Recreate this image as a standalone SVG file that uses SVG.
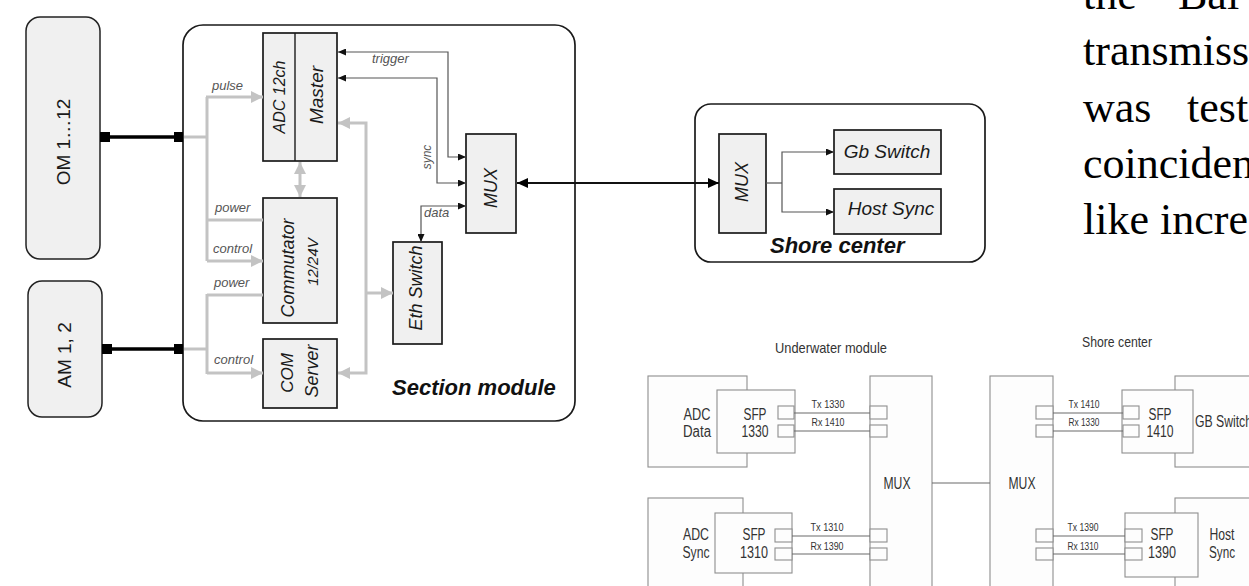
<svg xmlns="http://www.w3.org/2000/svg" width="1249" height="586" viewBox="0 0 1249 586">
<style>
text{font-family:"Liberation Sans",Arial,sans-serif}
.blk{fill:#f0f0f0;stroke:#1a1a1a;stroke-width:1.7}
.cont{fill:#fff;stroke:#1a1a1a;stroke-width:1.7}
.ext{fill:#f0f0f0;stroke:#222;stroke-width:1.5}
.lbl{font-style:italic;fill:#1a1a1a;text-anchor:middle}
.sm{font-style:italic;fill:#555;font-size:13px}
.big{font-style:italic;font-weight:bold;fill:#111;font-size:22px}
.gray{fill:none;stroke:#c3c3c3;stroke-width:3}
.blk-line{fill:none;stroke:#555;stroke-width:1.2}
.thick{fill:none;stroke:#000;stroke-width:3.5}
.sq{fill:#000}
.serif{font-family:"Liberation Serif","Times New Roman",serif;font-size:44px;fill:#000}
.pbox{fill:#fdfdfd;stroke:#8e8e8e;stroke-width:1.1}
.pline{fill:none;stroke:#6a6a6a;stroke-width:1.1}
.pt{font-family:"Liberation Sans",Arial,sans-serif;fill:#333;font-size:16px;text-anchor:middle}
.ps{font-family:"Liberation Sans",Arial,sans-serif;fill:#333;font-size:10.5px;text-anchor:middle}
</style>
<defs>
<marker id="ab" viewBox="0 0 8 7" refX="8" refY="3.5" markerWidth="8" markerHeight="7" markerUnits="userSpaceOnUse" orient="auto-start-reverse"><path d="M0,0 L8,3.5 L0,7 z" fill="#111"/></marker>
<marker id="ag" viewBox="0 0 12 12" refX="12" refY="6" markerWidth="12" markerHeight="12" markerUnits="userSpaceOnUse" orient="auto-start-reverse"><path d="M0,0 L12,6 L0,12 z" fill="#c3c3c3"/></marker>
<marker id="abig" viewBox="0 0 11 10" refX="11" refY="5" markerWidth="11" markerHeight="10" markerUnits="userSpaceOnUse" orient="auto-start-reverse"><path d="M0,0 L11,5 L0,10 z" fill="#000"/></marker>
</defs>

<!-- containers -->
<g id="section-module">
<rect class="cont" x="183" y="25" width="392" height="396" rx="20"/>
<text class="big" x="392" y="395">Section module</text>
</g>
<g id="shore-center">
<rect class="cont" x="695" y="104" width="290" height="158" rx="16"/>
<text class="big" x="770" y="253">Shore center</text>
</g>

<!-- external nodes -->
<g id="om">
<rect class="ext" x="26" y="17" width="74" height="242" rx="14"/>
<text class="lbl" style="font-style:normal;font-size:19px" x="63" y="148.5" transform="rotate(-90 63 142)">OM 1…12</text>
</g>
<g id="am">
<rect class="ext" x="28" y="281" width="74" height="136" rx="14"/>
<text class="lbl" style="font-style:normal;font-size:19px" x="64" y="361.5" transform="rotate(-90 64 355)">AM 1, 2</text>
</g>

<!-- inner nodes -->
<g id="adc-master">
<rect class="blk" x="263" y="33" width="74" height="128"/>
<line x1="295" y1="33" x2="295" y2="161" stroke="#1a1a1a" stroke-width="1.4"/>
<text class="lbl" style="font-size:16px" x="279" y="102.5" transform="rotate(-90 279 97)">ADC 12ch</text>
<text class="lbl" style="font-size:19px" x="316" y="101.5" transform="rotate(-90 316 95)">Master</text>
</g>
<g id="commutator">
<rect class="blk" x="263" y="198" width="74" height="125"/>
<text class="lbl" style="font-size:18px" x="288" y="274" transform="rotate(-90 288 268)">Commutator</text>
<text class="lbl" style="font-size:15px" x="313" y="267" transform="rotate(-90 313 262)">12/24V</text>
</g>
<g id="com-server">
<rect class="blk" x="263" y="339" width="74" height="69"/>
<text class="lbl" style="font-size:17px" x="287" y="379" transform="rotate(-90 287 373)">COM</text>
<text class="lbl" style="font-size:18px" x="312" y="377" transform="rotate(-90 312 371)">Server</text>
</g>
<g id="eth-switch">
<rect class="blk" x="393" y="242" width="49" height="102"/>
<text class="lbl" style="font-size:18px" x="416" y="294" transform="rotate(-90 416 288)">Eth Switch</text>
</g>
<g id="mux-section">
<rect class="blk" x="466" y="134" width="50" height="99"/>
<text class="lbl" style="font-size:18px" x="491" y="194" transform="rotate(-90 491 188)">MUX</text>
</g>
<g id="mux-shore">
<rect class="blk" x="719" y="134" width="47" height="99"/>
<text class="lbl" style="font-size:18px" x="742" y="188" transform="rotate(-90 742 182)">MUX</text>
</g>
<g id="gb-switch">
<rect class="blk" x="834" y="130" width="107" height="44"/>
<text class="lbl" style="font-size:19px" x="887" y="158">Gb Switch</text>
</g>
<g id="host-sync">
<rect class="blk" x="834" y="189" width="107" height="45"/>
<text class="lbl" style="font-size:19px" x="891" y="215">Host Sync</text>
</g>

<!-- connectors -->
<g id="connectors">
<path class="thick" d="M110,137 H174"/>
<rect class="sq" x="100" y="132" width="10" height="10"/>
<rect class="sq" x="174" y="132" width="9" height="10"/>
<path class="thick" d="M112,349 H174"/>
<rect class="sq" x="102" y="344" width="10" height="10"/>
<rect class="sq" x="174" y="344" width="9" height="10"/>

<path class="gray" d="M184,137 H207"/>
<path class="gray" d="M207,97 V261"/>
<path class="gray" d="M206,97 H263" marker-end="url(#ag)"/>
<path class="gray" d="M207,220 H263"/>
<path class="gray" d="M207,261 H263" marker-end="url(#ag)"/>
<path class="gray" d="M184,349 H207"/>
<path class="gray" d="M207,294 V374"/>
<path class="gray" d="M207,295 H263"/>
<path class="gray" d="M207,373 H263" marker-end="url(#ag)"/>
<path class="gray" d="M300,162 V197" marker-start="url(#ag)" marker-end="url(#ag)"/>
<path class="gray" d="M338,123 H366 V373 H338" marker-start="url(#ag)" marker-end="url(#ag)"/>
<path class="gray" d="M366,293 H393" marker-end="url(#ag)"/>

<path class="blk-line" d="M338,52 H448 V157 H466" marker-start="url(#ab)" marker-end="url(#ab)"/>
<path class="blk-line" d="M338,78 H437 V183 H466" marker-start="url(#ab)" marker-end="url(#ab)"/>
<path class="blk-line" d="M466,206 H421 V242" marker-start="url(#ab)" marker-end="url(#ab)"/>
<path fill="none" stroke="#111" stroke-width="2" d="M517,183 H719" marker-start="url(#abig)" marker-end="url(#abig)"/>
<path class="blk-line" d="M766,183 H782"/>
<path class="blk-line" d="M834,152 H782 V212 H834" marker-start="url(#ab)" marker-end="url(#ab)"/>

<text class="sm" x="212" y="90">pulse</text>
<text class="sm" x="215" y="212">power</text>
<text class="sm" x="213" y="253">control</text>
<text class="sm" x="214" y="287">power</text>
<text class="sm" x="214" y="364">control</text>
<text class="sm" x="372" y="63">trigger</text>
<text class="sm" x="424" y="217">data</text>
<text class="sm" style="font-size:12px;text-anchor:middle" x="427" y="161" transform="rotate(-90 427 157)">sync</text>
</g>

<!-- paragraph text -->
<g id="paragraph">
<text class="serif" x="1083" y="9">the</text>
<text class="serif" x="1178" y="9">Bai</text>
<text class="serif" x="1083" y="65">transmiss</text>
<text class="serif" x="1083" y="122">was</text>
<text class="serif" x="1187" y="122">test</text>
<text class="serif" x="1083" y="178">coinciden</text>
<text class="serif" x="1083" y="234">like incre</text>
</g>

<!-- lower picture: fibre link scheme -->
<g id="fibre-scheme">
<text class="pt" style="font-size:15px" x="831" y="353" textLength="112" lengthAdjust="spacingAndGlyphs">Underwater module</text>
<text class="pt" style="font-size:15px" x="1117" y="347" textLength="70" lengthAdjust="spacingAndGlyphs">Shore center</text>

<g id="adc-data">
<rect class="pbox" x="648" y="376" width="99" height="91"/>
<rect class="pbox" x="717" y="390" width="78" height="63"/>
<rect class="pbox" x="778" y="406" width="16" height="13"/>
<rect class="pbox" x="778" y="425" width="16" height="12"/>
<text class="pt" x="697" y="420" textLength="27" lengthAdjust="spacingAndGlyphs">ADC</text>
<text class="pt" x="697" y="437" textLength="28" lengthAdjust="spacingAndGlyphs">Data</text>
<text class="pt" x="755" y="420" textLength="23" lengthAdjust="spacingAndGlyphs">SFP</text>
<text class="pt" x="755" y="437" textLength="27" lengthAdjust="spacingAndGlyphs">1330</text>
</g>
<g id="adc-sync">
<rect class="pbox" x="648" y="498" width="95" height="100"/>
<rect class="pbox" x="715" y="513" width="77" height="60"/>
<rect class="pbox" x="775" y="529" width="17" height="13"/>
<rect class="pbox" x="775" y="548" width="17" height="12"/>
<text class="pt" x="696" y="540" textLength="26" lengthAdjust="spacingAndGlyphs">ADC</text>
<text class="pt" x="696" y="558" textLength="27" lengthAdjust="spacingAndGlyphs">Sync</text>
<text class="pt" x="754" y="540" textLength="23" lengthAdjust="spacingAndGlyphs">SFP</text>
<text class="pt" x="754" y="558" textLength="28" lengthAdjust="spacingAndGlyphs">1310</text>
</g>
<g id="mux-under">
<rect class="pbox" x="870" y="376" width="62" height="220"/>
<rect class="pbox" x="870" y="406" width="17" height="13"/>
<rect class="pbox" x="870" y="425" width="17" height="12"/>
<rect class="pbox" x="870" y="529" width="17" height="13"/>
<rect class="pbox" x="870" y="548" width="17" height="12"/>
<text class="pt" x="897" y="489" textLength="27" lengthAdjust="spacingAndGlyphs">MUX</text>
</g>
<g id="mux-shore-2">
<rect class="pbox" x="990" y="376" width="63" height="220"/>
<rect class="pbox" x="1036" y="406" width="17" height="13"/>
<rect class="pbox" x="1036" y="425" width="17" height="12"/>
<rect class="pbox" x="1036" y="529" width="17" height="13"/>
<rect class="pbox" x="1036" y="548" width="17" height="12"/>
<text class="pt" x="1022" y="489" textLength="27" lengthAdjust="spacingAndGlyphs">MUX</text>
</g>
<g id="gb-switch-2">
<rect class="pbox" x="1175" y="376" width="90" height="91"/>
<rect class="pbox" x="1122" y="390" width="71" height="63"/>
<rect class="pbox" x="1123" y="406" width="16" height="13"/>
<rect class="pbox" x="1123" y="425" width="16" height="12"/>
<text class="pt" x="1160" y="420" textLength="23" lengthAdjust="spacingAndGlyphs">SFP</text>
<text class="pt" x="1160" y="437" textLength="27" lengthAdjust="spacingAndGlyphs">1410</text>
<text class="pt" style="text-anchor:start" x="1195" y="427" textLength="57" lengthAdjust="spacingAndGlyphs">GB Switch</text>
</g>
<g id="host-sync-2">
<rect class="pbox" x="1175" y="498" width="90" height="100"/>
<rect class="pbox" x="1125" y="513" width="73" height="64"/>
<rect class="pbox" x="1125" y="529" width="17" height="13"/>
<rect class="pbox" x="1125" y="548" width="17" height="12"/>
<text class="pt" x="1162" y="540" textLength="23" lengthAdjust="spacingAndGlyphs">SFP</text>
<text class="pt" x="1162" y="558" textLength="28" lengthAdjust="spacingAndGlyphs">1390</text>
<text class="pt" x="1222" y="540" textLength="25" lengthAdjust="spacingAndGlyphs">Host</text>
<text class="pt" x="1222" y="558" textLength="26" lengthAdjust="spacingAndGlyphs">Sync</text>
</g>
<g id="fibre-links">
<path class="pline" d="M794,413 H870 M794,431 H870 M792,536 H870 M792,554 H870 M932,483 H990 M1053,413 H1123 M1053,431 H1123 M1053,536 H1125 M1053,554 H1125"/>
<text class="ps" x="828" y="408" textLength="33" lengthAdjust="spacingAndGlyphs">Tx 1330</text>
<text class="ps" x="828" y="426" textLength="33" lengthAdjust="spacingAndGlyphs">Rx 1410</text>
<text class="ps" x="827" y="531" textLength="33" lengthAdjust="spacingAndGlyphs">Tx 1310</text>
<text class="ps" x="827" y="550" textLength="33" lengthAdjust="spacingAndGlyphs">Rx 1390</text>
<text class="ps" x="1084" y="408" textLength="31" lengthAdjust="spacingAndGlyphs">Tx 1410</text>
<text class="ps" x="1084" y="426" textLength="31" lengthAdjust="spacingAndGlyphs">Rx 1330</text>
<text class="ps" x="1083" y="531" textLength="31" lengthAdjust="spacingAndGlyphs">Tx 1390</text>
<text class="ps" x="1083" y="550" textLength="31" lengthAdjust="spacingAndGlyphs">Rx 1310</text>
</g>
</g>
</svg>
